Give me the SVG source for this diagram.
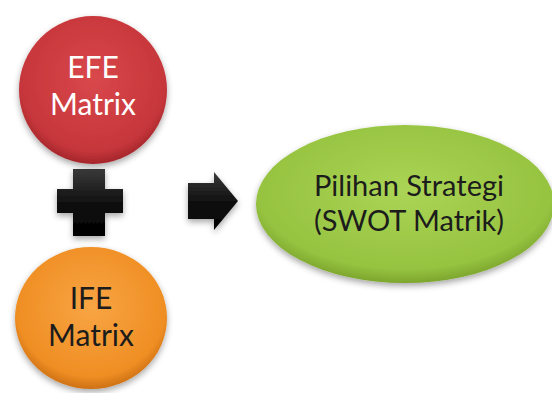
<svg xmlns="http://www.w3.org/2000/svg" width="552" height="393" viewBox="0 0 552 393">
<defs>
<radialGradient id="gRed" cx="0.5" cy="0.42" r="0.6">
<stop offset="0" stop-color="#d9484b"/><stop offset="0.82" stop-color="#c6363b"/><stop offset="1" stop-color="#9c2227"/>
</radialGradient>
<radialGradient id="gOrange" cx="0.5" cy="0.42" r="0.6">
<stop offset="0" stop-color="#f8a544"/><stop offset="0.82" stop-color="#ef8e23"/><stop offset="1" stop-color="#c66a12"/>
</radialGradient>
<radialGradient id="gGreen" cx="0.5" cy="0.42" r="0.6">
<stop offset="0" stop-color="#abd455"/><stop offset="0.82" stop-color="#96c340"/><stop offset="1" stop-color="#769f29"/>
</radialGradient>
<linearGradient id="gDark" x1="0" y1="0" x2="0" y2="1">
<stop offset="0" stop-color="#3a3a3a"/><stop offset="0.5" stop-color="#111"/><stop offset="1" stop-color="#000"/>
</linearGradient>
<filter id="sh" x="-20%" y="-20%" width="140%" height="150%">
<feDropShadow dx="0" dy="3" stdDeviation="3" flood-color="#000" flood-opacity="0.35"/>
</filter>
</defs>
<style>
.lbl{font-family:Lato,"Open Sans","Liberation Sans",sans-serif;font-size:30px;text-anchor:middle}
.s{font-size:29px}
.w{fill:#ffffff}
.d{fill:#1c1c1c}
</style>
<g id="connectors">
<path id="plus" d="M73 169 H105 V189 H123 V213 H105 V236 H73 V213 H57 V189 H73 Z" fill="url(#gDark)" filter="url(#sh)"/>
<path id="arrow" d="M188 183 H214 V172 L238 201 L214 230 V219 H188 Z" fill="url(#gDark)" filter="url(#sh)"/>
</g>
<g id="efe">
<circle cx="93" cy="90" r="74" fill="url(#gRed)" filter="url(#sh)"/>
<text class="lbl w" x="93" y="78">EFE</text>
<text class="lbl w" x="93" y="115">Matrix</text>
</g>
<g id="ife">
<ellipse cx="91" cy="318" rx="76" ry="71" fill="url(#gOrange)" filter="url(#sh)"/>
<text class="lbl d" x="91" y="309">IFE</text>
<text class="lbl d" x="91" y="346">Matrix</text>
</g>
<g id="pilihan">
<ellipse cx="405" cy="204" rx="149" ry="79" fill="url(#gGreen)" filter="url(#sh)"/>
<text class="lbl s d" x="409" y="196">Pilihan Strategi</text>
<text class="lbl s d" x="409" y="231">(SWOT Matrik)</text>
</g>
</svg>
